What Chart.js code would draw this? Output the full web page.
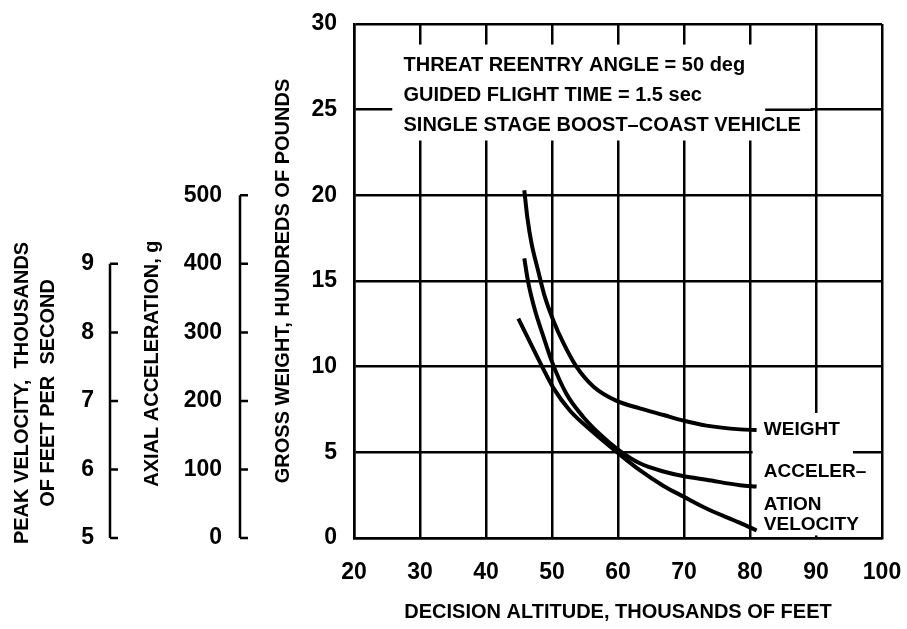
<!DOCTYPE html>
<html>
<head>
<meta charset="utf-8">
<script src="https://cdn.jsdelivr.net/npm/chart.js@4.4.0/dist/chart.umd.min.js"></script>
<style>
  html, body { margin: 0; padding: 0; background: #fff; }
</style>
</head>
<body>
<canvas id="myChart" width="907" height="629"></canvas>
<script>
// decision altitude (thousands of feet) and the value
var weightAlt = [45.8, 46.3, 46.9, 47.9, 48.9, 50.2, 51.7, 53.7, 56.3, 59.8, 63.3, 66.9, 70.0, 73.4, 78.5, 81.0];
var weightVals = [20.3, 18.6, 17.2, 15.6, 14.1, 12.7, 11.4, 10.0, 8.83, 8.0, 7.57, 7.18, 6.84, 6.56, 6.34, 6.3]; // hundreds of lb

var accelAlt = [45.8, 46.4, 47.4, 48.7, 50.0, 52.2, 54.7, 57.3, 60.0, 63.3, 66.9, 70.0, 73.4, 78.5, 81.0];
var accelVals = [408, 373, 333, 294, 257, 210, 177, 151, 129, 109, 97, 90, 85, 77, 75]; // g

var velocityAlt = [44.9, 46.7, 48.5, 50.2, 52.7, 55.8, 60.0, 63.3, 66.9, 70.0, 73.4, 78.5, 81.0];
var velocityVals = [8.20, 7.85, 7.50, 7.19, 6.86, 6.58, 6.24, 5.99, 5.76, 5.60, 5.43, 5.22, 5.11]; // thousands of ft/s

// tick labels on the two short scales at the left
var velocityTicks = [5, 6, 7, 8, 9];
var accelTicks = [0, 100, 200, 300, 400, 500];

var noteLines = ['THREAT REENTRY ANGLE = 50 deg', 'GUIDED FLIGHT TIME = 1.5 sec', 'SINGLE STAGE BOOST\u2013COAST VEHICLE'];
var curveLabels = ['WEIGHT', 'ACCELER\u2013', 'ATION', 'VELOCITY'];
var curveLabelVals = [6.3, 3.85, 1.93, 0.76]; // gross weight scale units

var FONT = 'Liberation Sans';
function f(size) { return { family: FONT, size: size, weight: 'bold' }; }

function pts(xs, ys) {
  return xs.map(function (x, i) { return { x: x, y: ys[i] }; });
}

// tick marks are kept invisible; their length just pushes the labels out
function hiddenTicks(len) {
  return { display: true, drawOnChartArea: false, drawTicks: true, tickLength: len, tickColor: 'rgba(0,0,0,0)' };
}

var overlay = {
  id: 'overlay',
  beforeDatasetsDraw: function (chart) {
    var ctx = chart.ctx, x = chart.scales.x, y = chart.scales.y;
    ctx.save();
    ctx.fillStyle = '#fff';
    // white patch behind the note block
    var l = x.getPixelForValue(25.8), r = x.getPixelForValue(89.2);
    var t = y.getPixelForValue(28.8), b = y.getPixelForValue(23.2);
    ctx.fillRect(l, t, r - l, b - t);
    // patch behind the curve names
    var l2 = x.getPixelForValue(80.4), r2 = x.getPixelForValue(95.6);
    var t2 = y.getPixelForValue(7.3), b2 = y.getPixelForValue(0.15);
    ctx.fillRect(l2, t2, r2 - l2, b2 - t2);
    // the 25 line comes back after the second note line
    ctx.strokeStyle = '#000';
    ctx.lineWidth = 2.5;
    ctx.beginPath();
    ctx.moveTo(x.getPixelForValue(82.3), y.getPixelForValue(25));
    ctx.lineTo(r + 2, y.getPixelForValue(25));
    ctx.stroke();
    ctx.restore();
  },
  afterDatasetsDraw: function (chart) {
    var ctx = chart.ctx, x = chart.scales.x, y = chart.scales.y;
    ctx.save();
    ctx.fillStyle = '#000';
    ctx.strokeStyle = '#000';
    ctx.textBaseline = 'middle';

    ctx.font = 'bold 20px "' + FONT + '"';
    ctx.textAlign = 'left';
    var nx = x.getPixelForValue(27.5);
    var ny = [27.55, 25.85, 24.1];
    noteLines.forEach(function (s, i) { ctx.fillText(s, nx, y.getPixelForValue(ny[i])); });

    ctx.font = 'bold 19px "' + FONT + '"';
    curveLabels.forEach(function (s, i) {
      ctx.fillText(s, x.getPixelForValue(82.1), y.getPixelForValue(curveLabelVals[i]));
    });

    // bracket axes for velocity and acceleration
    function bracket(s, vals) {
      var bx = s.right - 14;
      ctx.lineWidth = 2.5;
      ctx.beginPath();
      ctx.moveTo(bx, s.getPixelForValue(vals[0]));
      ctx.lineTo(bx, s.getPixelForValue(vals[vals.length - 1]));
      vals.forEach(function (v) {
        var py = s.getPixelForValue(v);
        ctx.moveTo(bx, py);
        ctx.lineTo(bx + 8, py);
      });
      ctx.stroke();
    }
    var sv = chart.scales.yV, sa = chart.scales.yA;
    bracket(sv, velocityTicks);
    bracket(sa, accelTicks);

    // titles of the two short axes
    ctx.font = 'bold 20px "' + FONT + '"';
    ctx.textAlign = 'center';
    function vtext(s, cx, cy) {
      ctx.save();
      ctx.translate(cx, cy);
      ctx.rotate(-Math.PI / 2);
      ctx.fillText(s, 0, 0);
      ctx.restore();
    }
    var vmid = (sv.getPixelForValue(5) + sv.getPixelForValue(9)) / 2 - 8;
    vtext('PEAK VELOCITY,  THOUSANDS', sv.left + 22, vmid);
    vtext('OF FEET PER  SECOND', sv.left + 48, vmid);
    var amid = (sa.getPixelForValue(0) + sa.getPixelForValue(500)) / 2 - 3;
    vtext('AXIAL ACCELERATION, g', sa.left + 28, amid);
    ctx.restore();
  }
};

var line = { borderColor: '#000', borderWidth: 4, pointRadius: 0, fill: false, cubicInterpolationMode: 'monotone' };

var ctx = document.getElementById('myChart').getContext('2d');
var chart = new Chart(ctx, {
  type: 'line',
  data: {
    datasets: [
      Object.assign({ label: 'Weight', data: pts(weightAlt, weightVals), yAxisID: 'y' }, line),
      Object.assign({ label: 'Acceleration', data: pts(accelAlt, accelVals), yAxisID: 'yA' }, line),
      Object.assign({ label: 'Velocity', data: pts(velocityAlt, velocityVals), yAxisID: 'yV' }, line)
    ]
  },
  options: {
    responsive: false,
    animation: false,
    layout: { padding: { left: 0, right: 25, top: 24, bottom: 0 } },
    plugins: { legend: { display: false }, tooltip: { enabled: false } },
    scales: {
      x: {
        type: 'linear', min: 20, max: 100,
        ticks: { stepSize: 10, padding: 4, color: '#000', font: f(23) },
        grid: { color: '#000', lineWidth: 2.5, drawTicks: true, tickLength: 17, tickColor: 'rgba(0,0,0,0)' },
        border: { color: '#000', width: 2.5 },
        title: { display: true, text: 'DECISION ALTITUDE, THOUSANDS OF FEET', color: '#000', font: f(20), padding: { top: 0, bottom: 5 } },
        afterFit: function (s) { s.height = 91; }
      },
      yV: {
        position: 'left', weight: 3, min: 5, max: 12.5,
        afterBuildTicks: function (s) { s.ticks = velocityTicks.map(function (v) { return { value: v }; }); },
        ticks: { padding: 4, color: '#000', font: f(23) },
        grid: hiddenTicks(26), border: { display: false },
        afterFit: function (s) { s.width = 124; }
      },
      yA: {
        position: 'left', weight: 2, min: 0, max: 750,
        afterBuildTicks: function (s) { s.ticks = accelTicks.map(function (v) { return { value: v }; }); },
        ticks: { padding: 4, color: '#000', font: f(23) },
        grid: hiddenTicks(28), border: { display: false },
        afterFit: function (s) { s.width = 130; }
      },
      y: {
        position: 'left', weight: 1, min: 0, max: 30,
        ticks: { stepSize: 5, padding: 4, color: '#000', font: f(23) },
        grid: { color: '#000', lineWidth: 2.5, drawTicks: true, tickLength: 13, tickColor: 'rgba(0,0,0,0)' },
        border: { color: '#000', width: 2.5 },
        title: { display: true, text: 'GROSS WEIGHT, HUNDREDS OF POUNDS', color: '#000', font: f(20), padding: { top: 17, bottom: 0 } },
        afterFit: function (s) { s.width = 100; }
      }
    }
  },
  plugins: [overlay]
});
</script>
</body>
</html>
